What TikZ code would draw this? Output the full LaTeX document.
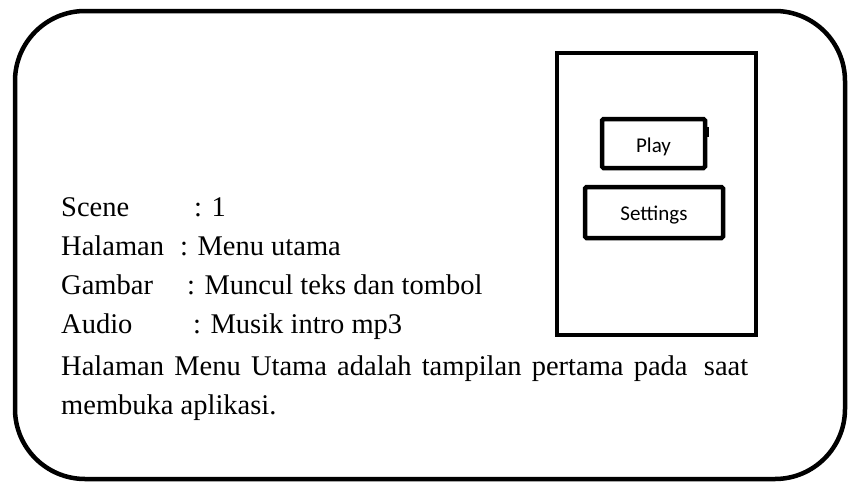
\documentclass[tikz,border=0pt]{standalone}
\usepackage{fontspec}
\setmainfont{Liberation Serif}
\newfontfamily\uifont{Carlito}
\begin{document}
\begin{tikzpicture}[x=1pt,y=-1pt,
  card/.style={draw, line width=4.5pt, rounded corners=70pt, minimum width=830pt, minimum height=468pt, inner sep=0pt},
  screen/.style={draw, line width=4pt, minimum width=199pt, minimum height=282pt, inner sep=0pt},
  btn/.style={draw, line width=4.5pt, rounded corners=1.5pt, inner sep=0pt, text depth=0pt,
    font=\uifont\fontsize{21}{25}\selectfont},
  info/.style={anchor=base west, inner sep=0pt, font=\fontsize{28.5}{34}\selectfont}
]
\useasboundingbox (0,0) rectangle (849,482);

% storyboard card and phone screen
\node[card] (card) at (430,245) {};
\node[screen] (screen) at (656.5,194) {};

% buttons on the screen
\node[btn, minimum width=103pt, minimum height=49pt, text height=18.5pt] (play) at (653.5,143.5) {Play};
\draw[line width=3pt] ([xshift=0.5pt,yshift=-10pt]play.north east) -- ([xshift=0.5pt,yshift=-20pt]play.north east);
\node[btn, minimum width=138pt, minimum height=51pt, text height=15pt] (settings) at (654,212.5) {Settings};

% scene description
\node[info] (sceneK) at (61,216) {Scene};
\node[info] (sceneV) at (194,216) {: 1};
\node[info] (halK) at (61,255.2) {Halaman};
\node[info] (halV) at (180,255.2) {: Menu utama};
\node[info] (gamK) at (61,294.4) {Gambar};
\node[info] (gamV) at (187,294.4) {: Muncul teks dan tombol};
\node[info] (audK) at (61,333.6) {Audio};
\node[info] (audV) at (193,333.6) {: Musik intro mp3};
\node[info] (desc1) at (61,375) {\hbox to 687pt{Halaman\hfill Menu\hfill Utama\hfill adalah\hfill tampilan\hfill pertama\hfill pada\hskip 0pt plus 1.6fill saat}};
\node[info] (desc2) at (61,414) {membuka aplikasi.};
\end{tikzpicture}
\end{document}
